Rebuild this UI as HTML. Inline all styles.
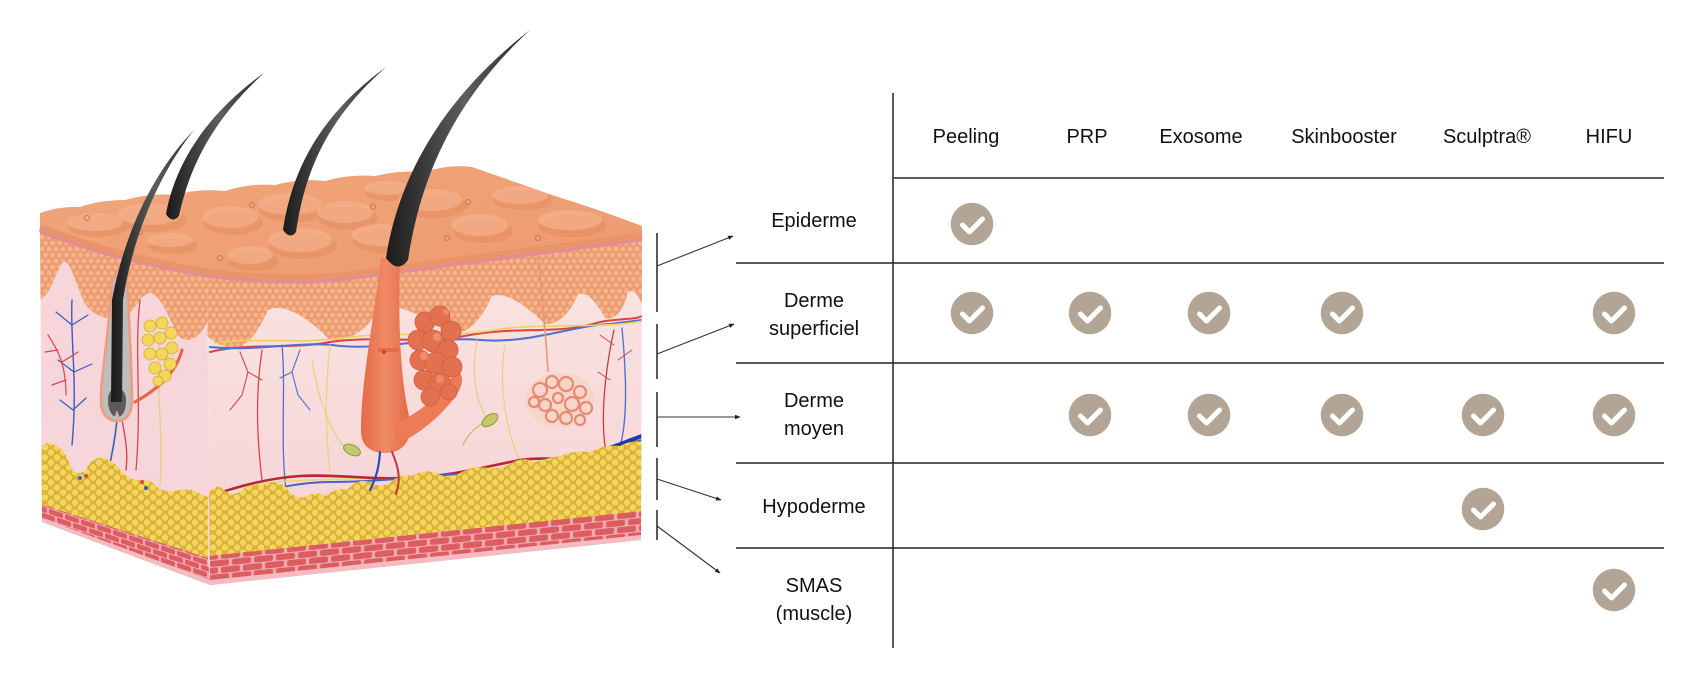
<!DOCTYPE html>
<html><head><meta charset="utf-8">
<style>html,body{margin:0;padding:0;background:#fff;}svg{display:block}</style>
</head><body>
<svg width="1706" height="694" viewBox="0 0 1706 694" xmlns="http://www.w3.org/2000/svg">
<defs>
  <pattern id="cells" width="7" height="12" patternUnits="userSpaceOnUse">
    <rect width="7" height="12" fill="#ec9b71"/>
    <circle cx="3.5" cy="3" r="2.4" fill="#f5b48c"/>
    <circle cx="0" cy="9" r="2.4" fill="#f5b48c"/>
    <circle cx="7" cy="9" r="2.4" fill="#f5b48c"/>
  </pattern>
  <pattern id="fat" width="12" height="10" patternUnits="userSpaceOnUse">
    <rect width="12" height="10" fill="#dfb43c"/>
    <circle cx="3" cy="2.5" r="3.7" fill="#f5d65c" stroke="#d3a934" stroke-width=".7"/>
    <circle cx="3" cy="12.5" r="3.7" fill="#f5d65c" stroke="#d3a934" stroke-width=".7"/>
    <circle cx="9" cy="7.5" r="3.7" fill="#f5d65c" stroke="#d3a934" stroke-width=".7"/>
    <circle cx="-3" cy="7.5" r="3.7" fill="#f5d65c" stroke="#d3a934" stroke-width=".7"/>
    <circle cx="9" cy="-2.5" r="3.7" fill="#f5d65c" stroke="#d3a934" stroke-width=".7"/>
  </pattern>
  <pattern id="musF" width="22" height="14" patternUnits="userSpaceOnUse" patternTransform="skewY(-5.7)">
    <rect width="22" height="14" fill="#f1a9ad"/>
    <rect x="1" y="1" width="19" height="6" rx="2" fill="#dc5d61"/>
    <rect x="-10" y="8" width="19" height="6" rx="2" fill="#dc5d61"/>
    <rect x="12" y="8" width="19" height="6" rx="2" fill="#dc5d61"/>
  </pattern>
  <pattern id="musL" width="16" height="12" patternUnits="userSpaceOnUse" patternTransform="skewY(18)">
    <rect width="16" height="12" fill="#f1a9ad"/>
    <rect x="1" y="1" width="14" height="5" rx="1.5" fill="#dc5d61"/>
    <rect x="-7" y="7" width="14" height="5" rx="1.5" fill="#dc5d61"/>
    <rect x="9" y="7" width="14" height="5" rx="1.5" fill="#dc5d61"/>
  </pattern>
  <linearGradient id="topG" x1="0" y1="0" x2="1" y2="1">
    <stop offset="0" stop-color="#f2a67c"/>
    <stop offset="1" stop-color="#ec9a6e"/>
  </linearGradient>
  <linearGradient id="dermF" x1="0" y1="0" x2="0" y2="1">
    <stop offset="0" stop-color="#fae6e2"/>
    <stop offset="1" stop-color="#f6d0d5"/>
  </linearGradient>
  <linearGradient id="hairG" x1="0" y1="0" x2="1" y2="0">
    <stop offset="0" stop-color="#1a1a1a"/>
    <stop offset=".55" stop-color="#5e5e5e"/>
    <stop offset="1" stop-color="#262626"/>
  </linearGradient>
  <linearGradient id="follG" x1="0" y1="0" x2="1" y2="0">
    <stop offset="0" stop-color="#e46a48"/>
    <stop offset=".5" stop-color="#f08a66"/>
    <stop offset="1" stop-color="#e36846"/>
  </linearGradient>
  <clipPath id="clipTop">
    <path d="M40,213 Q60,206 80,207 Q100,200 125,200 Q150,193 175,195 Q200,188 225,191 Q250,183 275,185 Q300,178 325,181 Q350,174 375,176 Q400,170 425,172 Q450,164 472,167 L555,196 Q600,210 642,226 L642,240 C560,250 420,270 340,280 C300,284 250,282 207,276 Q120,262 40,232 Z"/>
  </clipPath>
  <clipPath id="clipLeft"><path d="M40,232 Q120,262 207,276 L210,585 L42,522 Z"/></clipPath>
  <clipPath id="clipFront"><path d="M207,276 C250,282 300,284 340,280 C420,270 560,250 642,240 L641,540 L210,585 Z"/></clipPath>
  <marker id="ah" markerWidth="6" markerHeight="6" refX="5" refY="3" orient="auto" markerUnits="userSpaceOnUse">
    <path d="M0,0.8 L5.5,3 L0,5.2 Z" fill="#222"/>
  </marker>
</defs>

<!-- ============ LEFT FACE ============ -->
<g clip-path="url(#clipLeft)">
  <rect x="30" y="220" width="190" height="380" fill="#f6d6da"/>
  <path d="M40,232 Q120,262 207,276 L208,320 C200,340 185,345 178,335 C170,320 160,293 150,293 C140,293 135,315 120,318 C105,320 95,315 88,308 C78,295 72,262 65,262 C58,262 52,295 40,300 Z" fill="url(#cells)"/>
  <g fill="none" stroke-linecap="round">
    <path d="M72,300 C70,340 78,380 72,445" stroke="#3b5bc0" stroke-width="1.4"/>
    <path d="M72,325 L56,312 M72,325 L88,315 M74,372 L58,360 M74,372 L92,364 M73,410 L60,400 M73,410 L86,398" stroke="#3b5bc0" stroke-width="1.2"/>
    <path d="M48,335 C58,350 66,365 66,395 M58,350 L45,352 M62,362 L78,352 M66,380 L52,385" stroke="#d4484e" stroke-width="1.2"/>
    <path d="M140,300 C134,350 142,400 136,470" stroke="#d4484e" stroke-width="1.3"/>
    <path d="M160,335 C155,390 164,430 160,485" stroke="#e5d07a" stroke-width="1.3"/>
    <path d="M117,420 C115,440 112,455 108,472" stroke="#3b5bc0" stroke-width="1.6"/>
    <path d="M122,420 C126,440 128,455 126,470" stroke="#d4484e" stroke-width="1.4"/>
    <path d="M182,350 C176,372 160,388 135,402" stroke="#e2694a" stroke-width="3.2"/>
  </g>
  <path d="M40,447 Q48,440 57,446 Q66,452 70,465 Q76,478 86,470 Q92,456 104,458 Q116,462 122,472 Q130,480 140,480 Q150,478 158,488 Q168,494 180,490 Q192,488 200,494 L208,497 L208,558 L40,504 Z" fill="url(#fat)"/>
  <circle cx="80" cy="478" r="2" fill="#3b5bc0"/><circle cx="86" cy="476" r="2" fill="#d4484e"/>
  <circle cx="142" cy="482" r="2" fill="#d4484e"/><circle cx="146" cy="488" r="2" fill="#3b5bc0"/>
  <path d="M40,504 L208,558 L210,585 L42,522 Z" fill="url(#musL)"/>
  <path d="M42,518 L210,580 L210,586 L42,523 Z" fill="#f2bcc0"/>
</g>

<!-- ============ FRONT FACE ============ -->
<g clip-path="url(#clipFront)">
  <rect x="200" y="230" width="450" height="370" fill="url(#dermF)"/>
  <path d="M207,276 C250,282 300,284 340,280 C420,270 560,250 642,240 L642,305 Q636,288 628,292 Q620,322 605,318 Q590,290 578,294 Q565,325 545,324 Q510,290 492,296 Q475,335 450,334 Q400,300 380,308 Q360,342 330,340 Q290,300 268,310 Q250,350 232,348 Q215,345 207,335 Z" fill="url(#cells)"/>
  <g fill="none" stroke-linecap="round">
    <path d="M210,352 C250,342 290,350 330,342 C380,335 420,345 470,335 C520,326 560,335 600,322 C620,318 635,320 642,316" stroke="#d9444a" stroke-width="2"/>
    <path d="M210,347 C260,352 300,340 340,346 C390,350 430,336 480,340 C530,344 570,326 610,324 L642,320" stroke="#4c6fd0" stroke-width="2"/>
    <path d="M215,343 C260,337 300,345 350,337 C400,331 450,339 500,329 C550,323 600,329 642,321" stroke="#ecd25c" stroke-width="1.6"/>
    <path d="M262,350 C256,390 256,430 262,480" stroke="#d2484e" stroke-width="1.3"/>
    <path d="M282,345 C286,390 280,440 286,490" stroke="#5070cc" stroke-width="1.3"/>
    <path d="M240,352 L248,372 L242,395 M248,372 L262,380 M242,395 L230,410" stroke="#d2484e" stroke-width="1.1"/>
    <path d="M300,350 L292,372 L298,395 M292,372 L280,378 M298,395 L310,410" stroke="#5070cc" stroke-width="1.1"/>
    <path d="M614,330 C605,370 600,420 606,452" stroke="#c93a40" stroke-width="1.3"/>
    <path d="M622,328 C626,370 628,420 620,446" stroke="#5070cc" stroke-width="1.3"/>
    <path d="M614,345 L600,335 M618,360 L632,350 M610,380 L598,372" stroke="#d2484e" stroke-width="1"/>
    <path d="M330,345 C325,390 325,430 330,472" stroke="#e6d27a" stroke-width="1.2"/>
    <path d="M312,360 C318,400 330,430 345,448" stroke="#e6d27a" stroke-width="1.2"/>
    <path d="M477,340 C470,380 478,405 488,420" stroke="#e6d27a" stroke-width="1.2"/>
    <path d="M505,345 C498,385 506,430 520,462" stroke="#e6d27a" stroke-width="1.2"/>
    <path d="M463,445 C470,430 480,425 488,420" stroke="#bdbd6a" stroke-width="1.2"/>
  </g>
  <path d="M538,240 C540,290 546,330 548,372" fill="none" stroke="#e8957e" stroke-width="1.6"/>
  <ellipse cx="560" cy="400" rx="35" ry="27" fill="#f8d5c9"/>
  <g fill="none" stroke="#e68a74" stroke-width="2.2">
    <circle cx="540" cy="390" r="7"/><circle cx="552" cy="382" r="6"/><circle cx="566" cy="384" r="7"/>
    <circle cx="580" cy="392" r="6"/><circle cx="545" cy="405" r="6"/><circle cx="558" cy="398" r="5"/>
    <circle cx="572" cy="404" r="7"/><circle cx="586" cy="408" r="6"/><circle cx="552" cy="416" r="6"/>
    <circle cx="566" cy="418" r="6"/><circle cx="580" cy="420" r="5"/><circle cx="534" cy="402" r="5"/>
  </g>
  <ellipse cx="490" cy="420" rx="9" ry="5" transform="rotate(-35 490 420)" fill="#c6c86c" stroke="#8d9a3c" stroke-width="1"/>
  <ellipse cx="352" cy="450" rx="9" ry="5" transform="rotate(25 352 450)" fill="#c6c86c" stroke="#8d9a3c" stroke-width="1"/>
  <g fill="none" stroke-linecap="round">
    <path d="M230,490 C280,478 330,480 380,478 C440,476 480,470 520,466" stroke="#e9d57a" stroke-width="1.5"/>
    <path d="M205,498 C240,485 270,478 300,476 C340,474 370,480 410,478 C450,476 480,468 520,460 C550,456 580,462 600,458" stroke="#b52a30" stroke-width="2.6"/>
    <path d="M208,503 C250,495 290,482 330,482 C380,482 420,476 460,474 C500,472 530,466 560,460 C590,455 610,448 642,440" stroke="#4465c8" stroke-width="2"/>
    <path d="M596,452 C612,448 625,442 642,436" stroke="#1f35a8" stroke-width="4"/>
  </g>
  <path d="M207,497 Q213,483 222,488 Q230,497 240,492 Q250,482 262,486 Q272,478 285,486 Q295,500 305,497 Q315,490 325,496 Q335,488 348,489 Q358,478 370,482 Q380,488 390,483 Q400,473 412,476 Q425,468 438,474 Q450,480 462,472 Q475,465 488,468 Q500,470 510,464 Q522,456 535,462 Q548,458 560,456 Q575,450 590,452 Q605,444 620,446 Q630,440 642,442 L642,512 L208,557 Z" fill="url(#fat)"/>
  <path d="M208,556 L642,511 L641,540 L210,585 Z" fill="url(#musF)"/>
  <path d="M210,580 L641,535 L641,541 L210,586 Z" fill="#f2bcc0"/>
</g>

<!-- ============ TOP FACE ============ -->
<g clip-path="url(#clipTop)">
  <rect x="30" y="150" width="620" height="140" fill="url(#topG)"/>
  <g fill="#e0845a" opacity=".4">
    <ellipse cx="98" cy="227" rx="30" ry="10"/><ellipse cx="153" cy="220" rx="34" ry="12"/>
    <ellipse cx="233" cy="223" rx="30" ry="12"/><ellipse cx="293" cy="210" rx="34" ry="12"/>
    <ellipse cx="348" cy="218" rx="30" ry="12"/><ellipse cx="303" cy="246" rx="34" ry="13"/>
    <ellipse cx="383" cy="241" rx="30" ry="12"/><ellipse cx="433" cy="206" rx="34" ry="12"/>
    <ellipse cx="483" cy="231" rx="30" ry="12"/><ellipse cx="523" cy="200" rx="30" ry="10"/>
    <ellipse cx="573" cy="226" rx="34" ry="11"/><ellipse cx="253" cy="261" rx="25" ry="10"/>
    <ellipse cx="173" cy="246" rx="25" ry="8"/><ellipse cx="390" cy="193" rx="25" ry="8"/>
  </g>
  <g fill="#f4b08a" opacity=".75">
    <ellipse cx="95" cy="222" rx="28" ry="9"/><ellipse cx="150" cy="214" rx="32" ry="11"/>
    <ellipse cx="230" cy="217" rx="28" ry="11"/><ellipse cx="290" cy="204" rx="32" ry="11"/>
    <ellipse cx="345" cy="212" rx="28" ry="11"/><ellipse cx="300" cy="240" rx="32" ry="12"/>
    <ellipse cx="380" cy="235" rx="28" ry="11"/><ellipse cx="430" cy="200" rx="32" ry="11"/>
    <ellipse cx="480" cy="225" rx="28" ry="11"/><ellipse cx="520" cy="195" rx="28" ry="9"/>
    <ellipse cx="570" cy="220" rx="32" ry="10"/><ellipse cx="250" cy="255" rx="23" ry="9"/>
    <ellipse cx="170" cy="240" rx="23" ry="7"/><ellipse cx="387" cy="188" rx="23" ry="7"/>
  </g>
  <g fill="none" stroke="#d57a58" stroke-width="1.1">
    <circle cx="87" cy="218" r="2.6"/><circle cx="252" cy="205" r="2.6"/><circle cx="220" cy="258" r="2.6"/>
    <circle cx="373" cy="207" r="2.6"/><circle cx="468" cy="202" r="2.6"/><circle cx="447" cy="238" r="2.6"/>
    <circle cx="538" cy="238" r="2.6"/><circle cx="140" cy="232" r="2.6"/>
  </g>
</g>
<path d="M40,228 Q120,258 207,272 C250,278 300,280 340,276 C420,266 560,246 642,236" fill="none" stroke="#e9946a" stroke-width="7"/>
<path d="M40,232 Q120,262 207,276 C250,282 300,284 340,280 C420,270 560,250 642,240" fill="none" stroke="#e38c98" stroke-width="3"/>

<!-- ============ FOLLICLES & GLANDS ============ -->
<g fill="#f4d65a" stroke="#d4aa30" stroke-width=".8">
  <circle cx="150" cy="326" r="6"/><circle cx="162" cy="323" r="6"/><circle cx="171" cy="333" r="6"/>
  <circle cx="148" cy="340" r="6"/><circle cx="160" cy="338" r="6"/><circle cx="172" cy="348" r="6"/>
  <circle cx="150" cy="354" r="6"/><circle cx="162" cy="354" r="6"/><circle cx="170" cy="364" r="6"/>
  <circle cx="155" cy="368" r="6"/><circle cx="165" cy="376" r="6"/><circle cx="158" cy="381" r="5"/>
</g>
<path d="M112,278 C110,330 100,380 101,400 C101,416 109,421 117,421 C127,421 132,413 132,400 C132,370 129,320 127,278 Z" fill="#bdbdbd" stroke="#ef9c7c" stroke-width="2.5"/>
<path d="M108,400 C108,412 113,417 117,417 C122,417 126,412 126,400 C126,392 121,388 117,388 C112,388 108,392 108,400 Z" fill="#5a5a5a"/>
<path d="M114,418 L117,410 L120,418 Z" fill="#e2a9a0"/>

<path d="M381,258 L400,258 C398,320 400,380 410,420 C413,442 401,453 386,453 C370,453 361,446 361,430 C361,380 374,320 381,258 Z" fill="url(#follG)"/>
<path d="M396,425 C420,410 445,395 455,370 C463,372 464,381 459,391 C446,412 422,432 402,442 Z" fill="#ec7b56"/>
<path d="M378,350 L398,350" stroke="#e46a48" stroke-width="4"/>
<circle cx="384" cy="352" r="1.8" fill="#b63a2a"/>
<g fill="#e37150" stroke="#cf5d3f" stroke-width=".8">
  <circle cx="425" cy="322" r="10"/><circle cx="440" cy="316" r="10"/><circle cx="451" cy="331" r="10"/>
  <circle cx="418" cy="340" r="10"/><circle cx="433" cy="341" r="11"/><circle cx="448" cy="350" r="10"/>
  <circle cx="420" cy="360" r="10"/><circle cx="436" cy="363" r="11"/><circle cx="452" cy="367" r="10"/>
  <circle cx="424" cy="380" r="10"/><circle cx="440" cy="384" r="11"/><circle cx="430" cy="397" r="9"/>
  <circle cx="449" cy="392" r="8"/>
</g>
<g fill="#ef9a7e" opacity=".7">
  <circle cx="437" cy="337" r="4"/><circle cx="424" cy="356" r="4"/><circle cx="440" cy="379" r="4"/><circle cx="446" cy="312" r="3"/>
</g>
<g fill="none" stroke-linecap="round">
  <path d="M380,452 C379,468 376,478 370,490" stroke="#2d4cc0" stroke-width="2.2"/>
  <path d="M392,452 C399,468 401,480 396,494" stroke="#c23438" stroke-width="2"/>
</g>

<!-- ============ HAIRS ============ -->
<path d="M194,130 C155,170 125,230 112,300 L111,402 L122,402 L123,300 C133,235 160,172 194,130 Z" fill="url(#hairG)"/>
<path d="M166,214 C175,165 205,115 264,73 C213,120 190,165 179,216 Q172,224 166,214 Z" fill="url(#hairG)"/>
<path d="M283,230 C292,170 320,115 386,67 C328,118 305,170 296,232 Q290,240 283,230 Z" fill="url(#hairG)"/>
<path d="M386,258 C398,180 440,100 530,30 C450,104 420,182 408,260 Q398,274 386,258 Z" fill="url(#hairG)"/>

<!-- ============ BRACKETS & ARROWS ============ -->
<g stroke="#222" stroke-width="1.5">
  <line x1="657" y1="233" x2="657" y2="312"/>
  <line x1="657" y1="324" x2="657" y2="379"/>
  <line x1="657" y1="392" x2="657" y2="447"/>
  <line x1="657" y1="458" x2="657" y2="500"/>
  <line x1="657" y1="510" x2="657" y2="540"/>
</g>
<g stroke="#333" stroke-width="1.1" marker-end="url(#ah)">
  <line x1="657" y1="266" x2="733" y2="236"/>
  <line x1="657" y1="354" x2="734" y2="324"/>
  <line x1="657" y1="417" x2="740" y2="417"/>
  <line x1="657" y1="479" x2="721" y2="500"/>
  <line x1="657" y1="526" x2="720" y2="573"/>
</g>

<!-- ============ TABLE ============ -->
<line x1="893" y1="93" x2="893" y2="648" stroke="#222" stroke-width="1.5"/>
<line x1="893" y1="178" x2="1664" y2="178" stroke="#444" stroke-width="1.8"/>
<g stroke="#222" stroke-width="1.5">
  <line x1="736" y1="263" x2="1664" y2="263"/>
  <line x1="736" y1="363" x2="1664" y2="363"/>
  <line x1="736" y1="463" x2="1664" y2="463"/>
  <line x1="736" y1="548" x2="1664" y2="548"/>
</g>

<g font-family="'Liberation Sans', Arial, sans-serif" font-size="20" fill="#111" text-anchor="middle">
  <text x="966" y="143">Peeling</text>
  <text x="1087" y="143">PRP</text>
  <text x="1201" y="143">Exosome</text>
  <text x="1344" y="143">Skinbooster</text>
  <text x="1487" y="143">Sculptra®</text>
  <text x="1609" y="143">HIFU</text>

  <text x="814" y="227">Epiderme</text>
  <text x="814" y="307">Derme</text>
  <text x="814" y="335">superficiel</text>
  <text x="814" y="407">Derme</text>
  <text x="814" y="435">moyen</text>
  <text x="814" y="513">Hypoderme</text>
  <text x="814" y="592">SMAS</text>
  <text x="814" y="620">(muscle)</text>
</g>

<g fill="#b2a596">
  <circle cx="972" cy="224" r="21.3"/>
  <circle cx="972" cy="313" r="21.3"/><circle cx="1090" cy="313" r="21.3"/><circle cx="1209" cy="313" r="21.3"/><circle cx="1342" cy="313" r="21.3"/><circle cx="1614" cy="313" r="21.3"/>
  <circle cx="1090" cy="415" r="21.3"/><circle cx="1209" cy="415" r="21.3"/><circle cx="1342" cy="415" r="21.3"/><circle cx="1483" cy="415" r="21.3"/><circle cx="1614" cy="415" r="21.3"/>
  <circle cx="1483" cy="509" r="21.3"/>
  <circle cx="1614" cy="590" r="21.3"/>
</g>
<g fill="none" stroke="#fff" stroke-width="5" stroke-linecap="round" stroke-linejoin="round">
  <path d="M962.5,225 L969.5,232 L982.5,219"/>
  <path d="M962.5,314 L969.5,321 L982.5,308"/>
  <path d="M1080.5,314 L1087.5,321 L1100.5,308"/>
  <path d="M1199.5,314 L1206.5,321 L1219.5,308"/>
  <path d="M1332.5,314 L1339.5,321 L1352.5,308"/>
  <path d="M1604.5,314 L1611.5,321 L1624.5,308"/>
  <path d="M1080.5,416 L1087.5,423 L1100.5,410"/>
  <path d="M1199.5,416 L1206.5,423 L1219.5,410"/>
  <path d="M1332.5,416 L1339.5,423 L1352.5,410"/>
  <path d="M1473.5,416 L1480.5,423 L1493.5,410"/>
  <path d="M1604.5,416 L1611.5,423 L1624.5,410"/>
  <path d="M1473.5,510 L1480.5,517 L1493.5,504"/>
  <path d="M1604.5,591 L1611.5,598 L1624.5,585"/>
</g>
</svg>
</body></html>
